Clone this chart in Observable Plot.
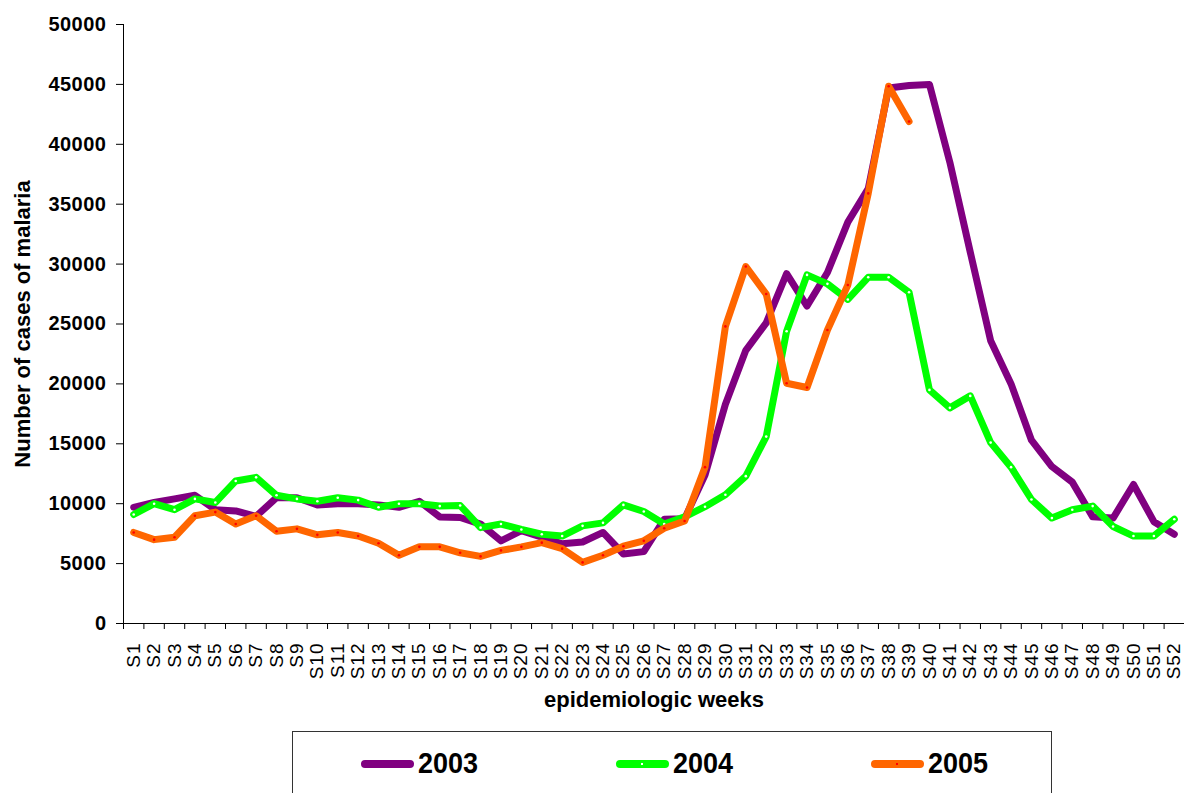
<!DOCTYPE html>
<html>
<head>
<meta charset="utf-8">
<script src="https://cdn.jsdelivr.net/npm/d3@7"></script>
<script src="https://cdn.jsdelivr.net/npm/@observablehq/plot@0.6"></script>
<style>
  html, body { margin: 0; padding: 0; background: #fff; }
  body { width: 1184px; height: 793px; overflow: hidden; font-family: "Liberation Sans", Arial, sans-serif; }
  #legend { position: relative; margin-left: 292px; margin-top: 11px; width: 760px; height: 90px; border: 1px solid #333; box-sizing: border-box; }
  .item { position: absolute; top: 16px; display: flex; align-items: center; }
  .sw { width: 53px; height: 8px; border-radius: 4px; position: relative; }
  .sw i { position: absolute; left: 25px; top: 3px; width: 2px; height: 2px; }
  .lbl { font-weight: bold; font-size: 27px; margin-left: 4px; color: #000; transform: scaleY(1.1); }
</style>
</head>
<body>
<div id="chart"></div>
<div id="legend"></div>
<script>
const weeks = d3.range(1, 53).map(i => "S" + i);
const years = ["2003", "2004", "2005"];
const colors = ["#800080", "#00FF00", "#FF6600"];
const markerColors = ["#800080", "#FFFFFF", "#FF0000"];
const yTicks = [0, 5000, 10000, 15000, 20000, 25000, 30000, 35000, 40000, 45000, 50000];

const cases2003 = [9700,10100,10400,10700,9500,9400,8950,10500,10500,9900,
  10000,10000,9900,9700,10200,8900,8850,8300,6900,7750,
  7200,6650,6800,7600,5800,6000,8700,8750,12400,18300,
  22800,25100,29200,26500,29300,33500,36300,44700,44900,45000,
  38500,31000,23600,20000,15300,13100,11800,8900,8800,11600,8500,7450];
const cases2004 = [9100,10000,9500,10400,10100,11900,12200,10700,10400,10200,
  10500,10300,9700,10000,10000,9800,9850,8000,8300,7850,
  7450,7300,8150,8400,9900,9350,8300,8900,9750,10750,
  12300,15600,24400,29100,28350,27050,28900,28900,27650,19500,
  18000,19000,15100,13050,10350,8800,9500,9800,8100,7300,7300,8700];
const cases2005 = [7600,7000,7200,9000,9300,8300,9000,7700,7900,7400,
  7600,7300,6700,5700,6400,6400,5900,5600,6100,6400,
  6750,6250,5100,5700,6450,6900,7950,8550,13050,24800,
  29800,27500,20050,19700,24500,28250,35900,44850,41900];

const series = [cases2003, cases2004, cases2005];
const table = series.map((vals, k) => vals.map((v, i) => ({week: i + 1, year: years[k], value: v})));

const font = '"Liberation Sans", Arial, sans-serif';

const marks = [
  Plot.axisY({ticks: yTicks, tickFormat: d => String(d), tickSize: 7, tickPadding: 10, fontSize: 20, fontWeight: "bold", label: null, stroke: "#000"}),
  Plot.axisX({ticks: d3.range(0.5, 53, 1), tickFormat: () => "", tickSize: 6, label: null, stroke: "#000"}),
  Plot.axisX({ticks: d3.range(1, 53), tickFormat: i => weeks[i - 1], tickSize: 0, tickPadding: 19, tickRotate: -90, fontSize: 19, label: null}),
  Plot.ruleY([0], {stroke: "#000"}),
  Plot.ruleX([0.5], {stroke: "#000"}),
  Plot.text(["Number of cases of malaria"], {frameAnchor: "left", dx: -101, rotate: -90, textAnchor: "middle", fontSize: 22, fontWeight: "bold", fill: "#000"}),
  Plot.text(["epidemiologic weeks"], {frameAnchor: "bottom", dy: 83, fontSize: 22, fontWeight: "bold", fill: "#000"})
];
table.forEach((rows, k) => {
  marks.push(Plot.line(rows, {x: "week", y: "value", stroke: colors[k], strokeWidth: 7, strokeLinejoin: "round", strokeLinecap: "round"}));
  marks.push(Plot.dot(rows, {x: "week", y: "value", r: 1.3, fill: markerColors[k], stroke: null}));
});

const chart = Plot.plot({
  width: 1184,
  height: 720,
  marginLeft: 123,
  marginRight: 0,
  marginTop: 24,
  marginBottom: 97,
  style: {fontFamily: font, background: "#fff", color: "#000"},
  x: {domain: [0.5, 52.5]},
  y: {domain: [0, 50000]},
  marks
});
document.getElementById("chart").appendChild(chart);
d3.select(chart).selectAll('[aria-label="x-axis tick label"] text').style("letter-spacing", "1px");
d3.select(chart).selectAll('[aria-label="y-axis tick label"] text').style("letter-spacing", "0.5px");

const legend = document.getElementById("legend");
const itemLeft = [68, 323, 578];
years.forEach((y, k) => {
  const it = document.createElement("div");
  it.className = "item";
  it.style.left = itemLeft[k] + "px";
  it.innerHTML = `<div class="sw" style="background:${colors[k]}"><i style="background:${markerColors[k]}"></i></div><span class="lbl">${y}</span>`;
  legend.appendChild(it);
});
</script>
</body>
</html>
